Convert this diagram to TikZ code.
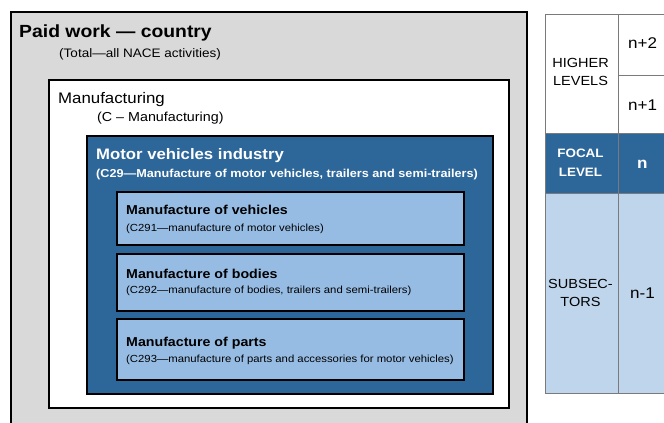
\documentclass[tikz,border=0pt]{standalone}
\usepackage{fontspec}
\setmainfont{Liberation Sans}[FakeStretch=1.1]
\usetikzlibrary{positioning}

\definecolor{boxgrey}{HTML}{D9D9D9}
\definecolor{darkblue}{HTML}{2D6699}
\definecolor{midblue}{HTML}{96BCE4}
\definecolor{paleblue}{HTML}{BED5EC}
\definecolor{rulegrey}{HTML}{7A7A7A}

\tikzset{
  frame/.style={draw=black, line width=2.6pt},
  cell/.style={draw=rulegrey, line width=0.9pt},
  title/.style={anchor=base west, inner sep=0pt, font=\bfseries},
  sub/.style={anchor=base west, inner sep=0pt},
  lvl/.style={anchor=base, align=center, inner sep=0pt},
  num/.style={anchor=base west, inner sep=0pt, font=\fontsize{15.5}{17}\selectfont}
}

\begin{document}
\begin{tikzpicture}[x=1pt, y=-1pt]
\useasboundingbox (0,0) rectangle (664,423);
\clip (0,0) rectangle (664,423);
\fill [white] (0,0) rectangle (664,423);

% nested boxes
\draw [frame, fill=boxgrey] (11,12) rectangle (527,440);
\draw [frame, fill=white] (49,80) rectangle (509,408);
\draw [frame, fill=darkblue, line width=2.2pt] (87,136) rectangle (493,394);
\draw [frame, fill=midblue] (117,192) rectangle (464,245);
\draw [frame, fill=midblue] (117,254) rectangle (464,311);
\draw [frame, fill=midblue] (117,319) rectangle (464,380);

\node [title, font=\bfseries\fontsize{17.6}{20}\selectfont] (country) at (19,37) {Paid work --- country};
\node [sub, font=\fontsize{12.3}{14}\selectfont] (countrysub) at (59,57.5) {(Total---all NACE activities)};
\node [sub, font=\fontsize{15.3}{17}\selectfont] (manuf) at (58,103) {Manufacturing};
\node [sub, font=\fontsize{13}{15}\selectfont] (manufsub) at (97,121) {(C -- Manufacturing)};
\node [title, white, font=\bfseries\fontsize{15.2}{17}\selectfont] (motor) at (96,159) {Motor vehicles industry};
\node [title, white, font=\bfseries\fontsize{11.5}{14}\selectfont] (motorsub) at (96,177) {(C29---Manufacture of motor vehicles, trailers and semi-trailers)};

\node [title, font=\bfseries\fontsize{12.9}{15}\selectfont] (veh) at (126,214.5) {Manufacture of vehicles};
\node [sub, font=\fontsize{10.3}{12}\selectfont] (vehsub) at (126,231) {(C291---manufacture of motor vehicles)};
\node [title, font=\bfseries\fontsize{12.9}{15}\selectfont] (bod) at (126,278) {Manufacture of bodies};
\node [sub, font=\fontsize{10.3}{12}\selectfont] (bodsub) at (126,293.5) {(C292---manufacture of bodies, trailers and semi-trailers)};
\node [title, font=\bfseries\fontsize{12.9}{15}\selectfont] (par) at (126,346) {Manufacture of parts};
\node [sub, font=\fontsize{10.3}{12}\selectfont] (parsub) at (126,362) {(C293---manufacture of parts and accessories for motor vehicles)};

% level table
\fill [darkblue] (545,133) rectangle (680,193);
\fill [paleblue] (545,193) rectangle (680,393);
\draw [cell] (680,14) -- (545,14) -- (545,393) -- (680,393);
\draw [cell] (618,14) -- (618,393);
\draw [cell] (618,75) -- (680,75);
\draw [cell] (545,133) -- (680,133);
\draw [cell] (545,193) -- (680,193);

\node [lvl, font=\fontsize{13.2}{17.5}\selectfont] (higher) at (580.5,85) {HIGHER\\LEVELS};
\node [lvl, white, font=\bfseries\fontsize{12.2}{18.5}\selectfont] (focal) at (580.5,176) {FOCAL\\LEVEL};
\node [lvl, font=\fontsize{13.2}{18}\selectfont] (subsec) at (580.5,306) {SUBSEC-\\TORS};
\node [num] (np2) at (628,48.5) {n+2};
\node [num] (np1) at (628,110) {n+1};
\node [num, white, font=\bfseries\fontsize{15.5}{17}\selectfont] (nf) at (637,168) {n};
\node [num] (nm1) at (630,298) {n-1};
\end{tikzpicture}
\end{document}
